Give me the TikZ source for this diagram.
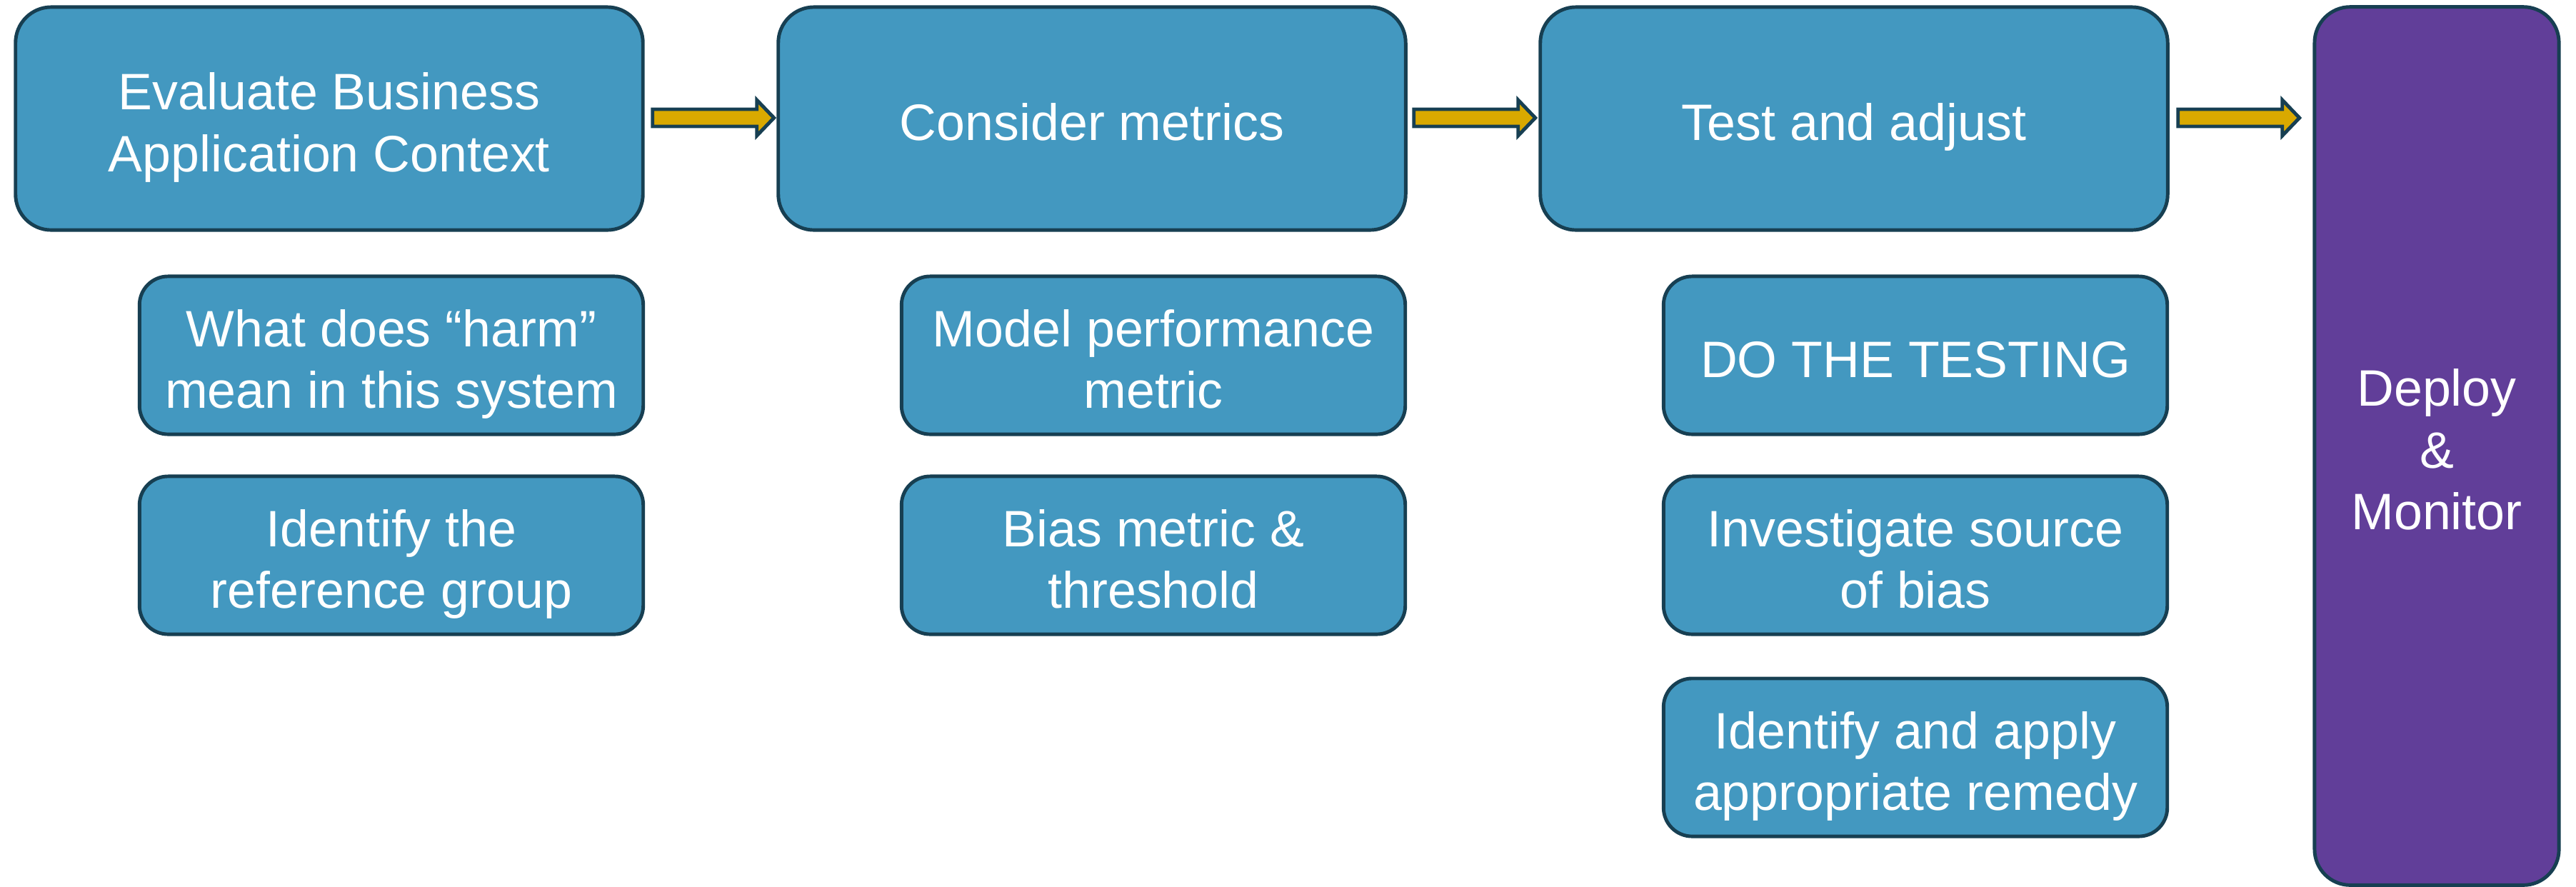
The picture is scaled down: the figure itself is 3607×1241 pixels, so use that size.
\documentclass[tikz,border=0pt]{standalone}
\usepackage{fontspec}
\setmainfont{Liberation Sans}
\usetikzlibrary{calc}
\definecolor{boxblue}{HTML}{4398C0}
\definecolor{edgedark}{HTML}{173F52}
\definecolor{deploypurple}{HTML}{613E99}
\definecolor{arrowgold}{HTML}{D9A900}
\newcommand\toprl{\rule{0pt}{25pt}}
\newcommand\botrl{\rule[-7.4pt]{0pt}{7.4pt}}
\tikzset{
  boxtext/.style={text=white, align=center, inner sep=0pt,
    font=\fontsize{20.4}{24.6}\selectfont},
  mainbox/.style={boxtext, draw=edgedark, line width=1.4pt, fill=boxblue, rounded corners=0.5cm,
    minimum width=8.78cm, minimum height=3.12cm},
  subbox/.style={boxtext, draw=edgedark, line width=1.4pt, fill=boxblue, rounded corners=0.4cm,
    minimum width=7.05cm, minimum height=2.21cm},
  deploybox/.style={boxtext, draw=edgedark, line width=1.4pt, fill=deploypurple, rounded corners=0.5cm,
    minimum width=3.42cm, minimum height=12.29cm},
  blockarrow/.style={draw=edgedark, line width=1.4pt, fill=arrowgold, line join=miter}
}
\begin{document}
\begin{tikzpicture}[x={(0.01cm,0)}, y={(0,-0.01cm)}]
\useasboundingbox (0,0) rectangle (3607,1241);

\node[mainbox] (b1) at (461,166) {\toprl Evaluate Business\\Application Context\botrl};
\node[mainbox] (b2) at (1529,166) {\toprl Consider metrics\botrl};
\node[mainbox] (b3) at (2596,166) {\toprl Test and adjust\botrl};
\node[deploybox] (dep) at (3412,624.5) {\toprl Deploy\\\&\\Monitor\botrl};

\node[subbox] (s11) at (548,497.5) {\toprl What does “harm”\\mean in this system\botrl};
\node[subbox] (s12) at (548,777.5) {\toprl Identify the\\reference group\botrl};
\node[subbox] (s21) at (1615,497.5) {\toprl Model performance\\metric\botrl};
\node[subbox] (s22) at (1615,777.5) {\toprl Bias metric \&\\threshold\botrl};
\node[subbox] (s31) at (2682,497.5) {\toprl DO THE TESTING\botrl};
\node[subbox] (s32) at (2682,777.5) {\toprl Investigate source\\of bias\botrl};
\node[subbox] (s33) at (2682,1060.5) {\toprl Identify and apply\\appropriate remedy\botrl};

\draw[blockarrow] ($(b1.east)+(11,-13)$) -- ++(146,0) -- ++(0,-13) -- ++(24,25) -- ++(-24,25) -- ++(0,-13) -- ++(-146,0) -- cycle;
\draw[blockarrow] ($(b2.east)+(9,-13)$) -- ++(146,0) -- ++(0,-13) -- ++(24,25) -- ++(-24,25) -- ++(0,-13) -- ++(-146,0) -- cycle;
\draw[blockarrow] ($(b3.east)+(12,-13)$) -- ++(146,0) -- ++(0,-13) -- ++(24,25) -- ++(-24,25) -- ++(0,-13) -- ++(-146,0) -- cycle;
\end{tikzpicture}
\end{document}
